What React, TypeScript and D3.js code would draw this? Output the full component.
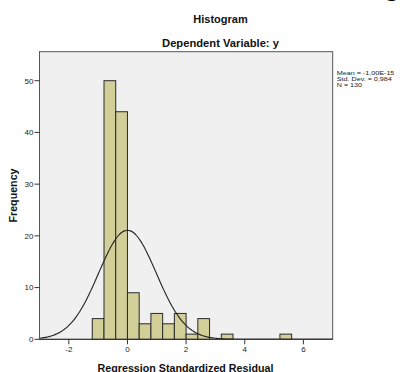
import React from "react";
import * as d3 from "d3";

const binStarts = [-1.2, -0.8, -0.4, 0, 0.4, 0.8, 1.2, 1.6, 2.0, 2.4, 2.8, 3.2, 3.6, 4.0, 4.4, 4.8, 5.2];
const counts = [4, 50, 44, 9, 3, 5, 3, 5, 1, 4, 0, 1, 0, 0, 0, 0, 1];
const binWidth = 0.4;
const xTicks = [-2, 0, 2, 4, 6];
const yTicks = [0, 10, 20, 30, 40, 50];
const meanVal = 0;
const sdVal = 0.984;
const nVal = 130;
const statsLines = ["Mean = -1,00E-15", "Std. Dev. = 0,984", "N = 130"];

export default function App() {
  const W = 400, H = 372;
  const left = 39.5, right = 332.7, top = 51.7, bottom = 339.3;
  const x = d3.scaleLinear().domain([-3, 7]).range([left, right]);
  const y = d3.scaleLinear().domain([0, 50]).range([bottom, 80.7]);
  const curvePts = d3.range(-3, 7.001, 0.05).map((v) => [
    v,
    (nVal * binWidth) / (sdVal * Math.sqrt(2 * Math.PI)) * Math.exp(-0.5 * ((v - meanVal) / sdVal) ** 2),
  ]);
  const line = d3.line<number[]>().x((d) => x(d[0])).y((d) => y(d[1])).curve(d3.curveBasis);
  const font = "Liberation Sans, Arial, sans-serif";
  return (
    <svg width={W} height={H} style={{ position: "absolute", left: 0, top: 0 }} fontFamily={font}>
      <rect x={0} y={0} width={W} height={H} fill="#fff" />
      <text x={384} y={-4} fontSize={26} fontWeight="bold" fill="#000">g</text>
      <text x={220.5} y={23} textAnchor="middle" fontSize={11} fontWeight="bold" fill="#111">Histogram</text>
      <text x={220.5} y={47} textAnchor="middle" fontSize={11.2} fontWeight="bold" fill="#111">Dependent Variable: y</text>
      <rect x={left} y={top} width={right - left} height={bottom - top} fill="#F0F0F0" stroke="#555" strokeWidth={1} />
      <defs>
        <clipPath id="plot">
          <rect x={left} y={top} width={right - left} height={bottom - top} />
        </clipPath>
      </defs>
      {counts.map((c, i) =>
        c > 0 ? (
          <rect
            key={i}
            x={x(binStarts[i])}
            y={y(c)}
            width={x(binStarts[i] + binWidth) - x(binStarts[i])}
            height={y(0) - y(c)}
            fill="#D3CF99"
            stroke="#2a2a2a"
            strokeWidth={1}
          />
        ) : null
      )}
      <path d={line(curvePts) || ""} fill="none" stroke="#222" strokeWidth={1.1} clipPath="url(#plot)" />
      <line x1={left} x2={right} y1={bottom} y2={bottom} stroke="#333" />
      <line x1={left} x2={left} y1={top} y2={bottom} stroke="#555" />
      {yTicks.map((t) => (
        <g key={t}>
          <line x1={left - 5} x2={left} y1={y(t)} y2={y(t)} stroke="#333" />
          <text x={left - 6} y={y(t) + 2.8} textAnchor="end" fontSize={8} fill="#222">{t}</text>
        </g>
      ))}
      {xTicks.map((t) => (
        <g key={t}>
          <line x1={x(t)} x2={x(t)} y1={bottom} y2={bottom + 5} stroke="#333" />
          <text x={x(t)} y={bottom + 13} textAnchor="middle" fontSize={8} fill="#222">{t}</text>
        </g>
      ))}
      <text x={185.5} y={371.5} textAnchor="middle" fontSize={10.7} fontWeight="bold" fill="#111">Regression Standardized Residual</text>
      <text transform={`translate(17,195.5) rotate(-90)`} textAnchor="middle" fontSize={10.7} fontWeight="bold" fill="#111">Frequency</text>
      {statsLines.map((s, i) => (
        <text key={i} transform={`translate(336.7,${74.8 + i * 5.9}) scale(1,0.8)`} fontSize={7.2} fill="#222">{s}</text>
      ))}
    </svg>
  );
}
